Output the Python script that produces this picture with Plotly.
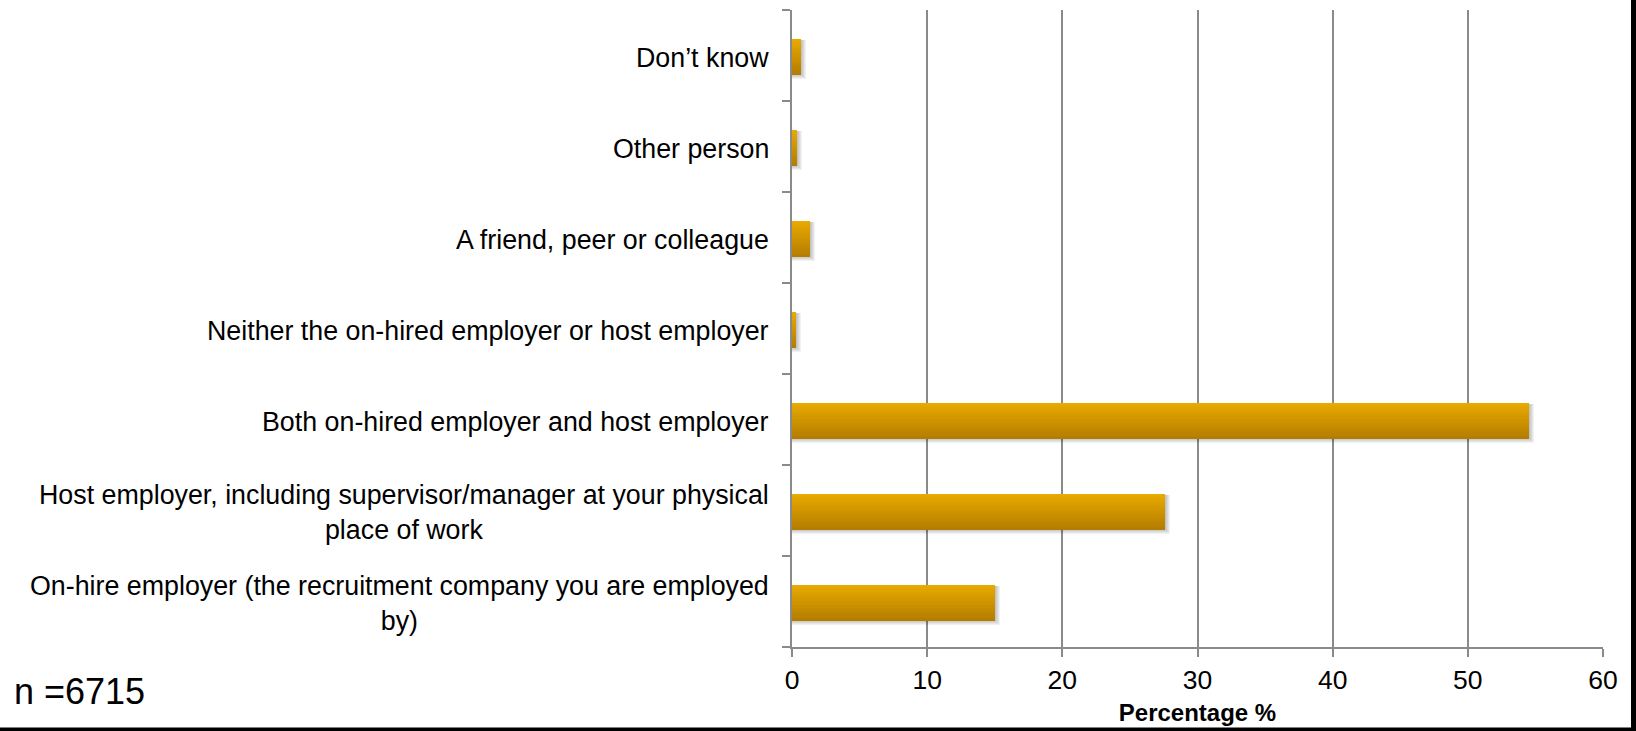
import plotly.graph_objects as go

# Survey responses, listed bottom-to-top as drawn on the category axis
categories = [
    "On-hire employer (the recruitment company you are employed<br>by)",
    "Host employer, including supervisor/manager at your physical<br>place of work",
    "Both on-hired employer and host employer",
    "Neither the on-hired employer or host employer",
    "A friend, peer or colleague",
    "Other person",
    "Don\u2019t know",
]
percentages = [15.0, 27.6, 54.5, 0.3, 1.3, 0.4, 0.7]
x_ticks = [0, 10, 20, 30, 40, 50, 60]
sample_note = "n =6715"
x_title = "<b>Percentage %</b>"

W, H = 1636, 731
ML, MR, MT, MB = 792, 33, 10, 84
PW, PH = W - ML - MR, H - MT - MB
FONT = "Liberation Sans, Arial, sans-serif"

BAR_W = 0.40
px_x = 60 / PW          # data units per pixel along x
px_y = 7 / PH           # category units per pixel along y
BAR_OFF = -BAR_W / 2 - 1.5 * px_y

fig = go.Figure()

# soft drop shadow under each bar (kept below the bar's top edge)
for j in range(1, 6):
    fig.add_trace(go.Bar(
        y=categories, x=[v + j * 1.0 * px_x for v in percentages],
        orientation="h", width=BAR_W - 3 * px_y + (j * 1.2) * px_y,
        offset=BAR_OFF - (j * 1.2) * px_y + 2 * px_y,
        marker=dict(color="rgba(0,0,0,0.05)", line=dict(width=0)),
        hoverinfo="skip", showlegend=False,
    ))

# vertical gradient: dark amber at the bottom to bright amber at the top
N = 16
c_bot = (178, 124, 0)
c_top = (234, 170, 0)
for i in range(N):
    t = (i + 0.5) / N
    c = tuple(round(c_bot[k] + (c_top[k] - c_bot[k]) * t) for k in range(3))
    fig.add_trace(go.Bar(
        y=categories, x=percentages, orientation="h",
        width=BAR_W / N * 1.02, offset=BAR_OFF + i * BAR_W / N,
        marker=dict(color="rgb(%d,%d,%d)" % c, line=dict(width=0)),
        hoverinfo="x", showlegend=False,
    ))

# category labels, centred per line and right-aligned against the axis
annotations = []
for cat in categories:
    annotations.append(dict(
        x=0, xref="paper", y=cat, yref="y", text=cat, showarrow=False,
        xanchor="right", yanchor="middle", align="center", xshift=-21, yshift=-2,
        font=dict(family=FONT, size=26.8, color="black"),
    ))
annotations.append(dict(
    x=(12 - ML) / PW, xref="paper", y=(MT + PH - 691) / PH, yref="paper",
    text=sample_note, showarrow=False, xanchor="left", yanchor="middle",
    font=dict(family=FONT, size=36, color="black"),
))

# dark frame edges on the right and bottom of the page
shapes = [
    dict(type="rect", xref="paper", yref="paper",
         x0=(1631 - ML) / PW, x1=(W + 5 - ML) / PW,
         y0=(MT + PH - H - 5) / PH, y1=(MT + PH + 5) / PH,
         fillcolor="black", line=dict(width=0), layer="above"),
    dict(type="rect", xref="paper", yref="paper",
         x0=(-5 - ML) / PW, x1=(W + 5 - ML) / PW,
         y0=(MT + PH - H - 5) / PH, y1=(MT + PH - 727.5) / PH,
         fillcolor="black", line=dict(width=0), layer="above"),
]

fig.update_layout(
    width=W, height=H,
    margin=dict(l=ML, r=MR, t=MT, b=MB, pad=0),
    paper_bgcolor="white", plot_bgcolor="white",
    barmode="overlay", bargap=0, showlegend=False,
    font=dict(family=FONT, color="black"),
    annotations=annotations, shapes=shapes,
    xaxis=dict(
        range=[0, 60], tickvals=x_ticks, ticktext=[str(v) for v in x_ticks],
        showgrid=True, gridcolor="#8a8a8a", gridwidth=1.6,
        showline=True, linecolor="#8a8a8a", linewidth=2,
        ticks="outside", ticklen=8, tickwidth=2, tickcolor="#8a8a8a",
        zeroline=False, tickfont=dict(family=FONT, size=26.5, color="black"),
        title=dict(text=x_title, standoff=10,
                   font=dict(family=FONT, size=24, color="black")),
        fixedrange=True,
    ),
    yaxis=dict(
        type="category", categoryorder="array", categoryarray=categories,
        range=[-0.5, 6.5], showticklabels=False, showgrid=False,
        showline=True, linecolor="#8a8a8a", linewidth=2,
        ticks="outside", tickson="boundaries", ticklen=8, tickwidth=2,
        tickcolor="#8a8a8a", zeroline=False, fixedrange=True,
    ),
)

fig.write_html("out.html")
